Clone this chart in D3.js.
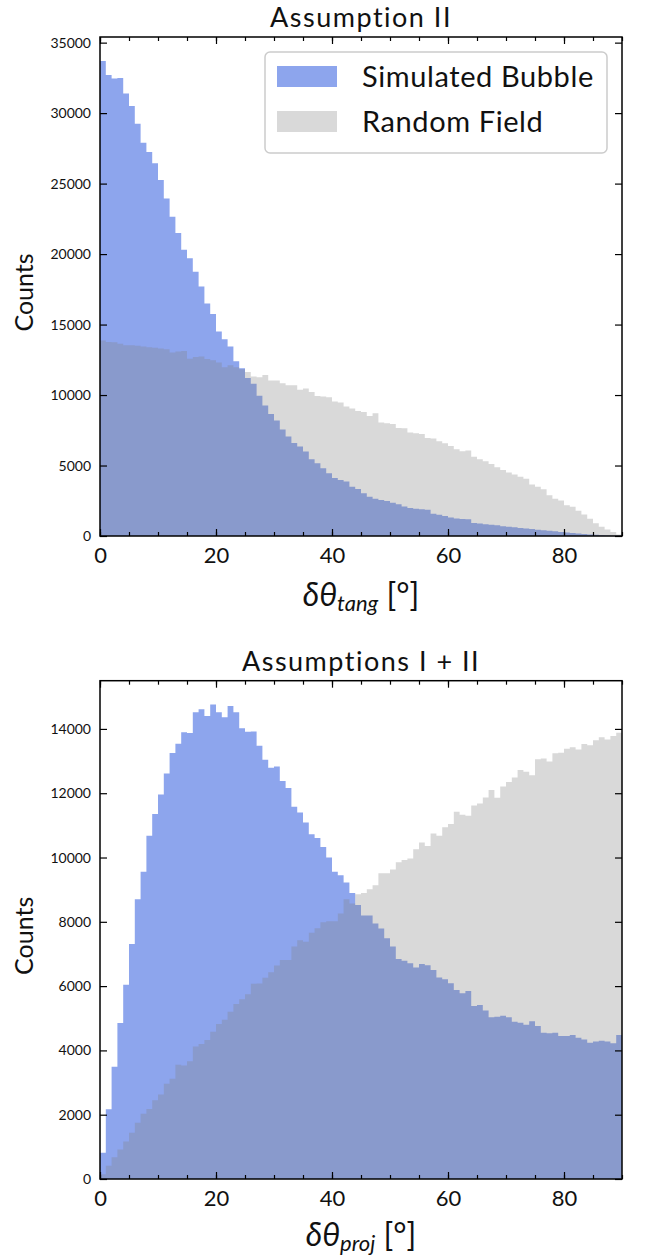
<!DOCTYPE html>
<html>
<head>
<meta charset="utf-8">
<script src="https://cdn.jsdelivr.net/npm/d3@7"></script>
<style>
  body { margin: 0; background: #fff; }
  text { font-family: Lato, "DejaVu Sans", sans-serif; fill: #111; }
</style>
</head>
<body>
<div class="container"></div>
<script>
// bin edges in degrees (1 degree bins from 0 to 90)
var binEdges = d3.range(0, 91, 1);

var xTicks = [0, 20, 40, 60, 80];
var xMinorTicks = [0, 5, 10, 15, 20, 25, 30, 35, 40, 45, 50, 55, 60, 65, 70, 75, 80, 85, 90];
var yTicksTang = [0, 5000, 10000, 15000, 20000, 25000, 30000, 35000];
var yTicksProj = [0, 2000, 4000, 6000, 8000, 10000, 12000, 14000];

var seriesNames = ['Simulated Bubble', 'Random Field'];

// Assumption II : delta theta tang
var tangBubble = [33700, 32700, 32450, 32500, 31400, 30500, 29250, 27900, 27250, 26450,
    25250, 23950, 22650, 21500, 20300, 19700, 18750, 17700, 16500, 15750,
    14500, 13950, 13450, 12400, 11900, 11200, 10800, 9950, 9250, 8650,
    8200, 7550, 7050, 6600, 6350, 5990, 5440, 5160, 4800, 4450,
    4120, 3980, 3860, 3500, 3340, 3030, 2790, 2650, 2560, 2480,
    2350, 2250, 2100, 1990, 1930, 1900, 1860, 1580, 1500, 1420,
    1320, 1250, 1200, 1190, 920, 880, 830, 790, 760, 700,
    660, 620, 570, 530, 490, 450, 410, 370, 330, 290,
    250, 210, 170, 140, 110, 80, 60, 40, 25, 10];

var tangRandom = [13870, 13770, 13750, 13630, 13540, 13540, 13490, 13440, 13390, 13350,
    13300, 13250, 13020, 13090, 13130, 12570, 12690, 12730, 12550, 12470,
    12310, 11980, 12120, 11980, 11830, 11640, 11310, 11260, 11430, 11030,
    11030, 10840, 10700, 10700, 10370, 10460, 10220, 9940, 9890, 9850,
    9550, 9470, 9180, 9040, 8870, 8800, 8520, 8710, 8050, 8000,
    7950, 7670, 7640, 7340, 7290, 7240, 6960, 6910, 6720, 6580,
    6390, 6150, 6010, 6060, 5630, 5440, 5300, 5110, 4880, 4690,
    4500, 4360, 4210, 4070, 3650, 3500, 3310, 2890, 2650, 2510,
    2180, 2080, 1800, 1520, 1230, 900, 660, 470, 280, 100];

// Assumptions I + II : delta theta proj
var projBubble = [820, 2170, 3490, 4850, 6040, 7310, 8700, 9560, 10680, 11350,
    11960, 12610, 13250, 13540, 13900, 13870, 14520, 14610, 14400, 14760,
    14520, 14360, 14710, 14520, 14020, 13910, 13920, 13480, 13040, 12790,
    12830, 12380, 12160, 11580, 11400, 11090, 10720, 10610, 10330, 10000,
    9560, 9450, 9220, 8900, 8520, 8200, 8200, 7950, 7790, 7490,
    7230, 6840, 6790, 6710, 6580, 6690, 6650, 6500, 6270, 6210,
    6090, 5880, 5780, 5850, 5380, 5410, 5240, 5030, 5050, 5080,
    5030, 4890, 4860, 4800, 4910, 4760, 4550, 4530, 4550, 4450,
    4450, 4480, 4390, 4340, 4240, 4280, 4300, 4280, 4220, 4480];

var projRandom = [150, 415, 680, 920, 1170, 1440, 1750, 2030, 2180, 2450,
    2630, 2960, 3120, 3550, 3530, 3660, 4120, 4200, 4320, 4580,
    4820, 4950, 5200, 5440, 5590, 5750, 6070, 6080, 6260, 6430,
    6640, 6810, 6810, 7230, 7430, 7380, 7660, 7800, 7990, 8020,
    8020, 8260, 8700, 8570, 8860, 8900, 9010, 9140, 9510, 9510,
    9630, 9850, 9920, 9970, 10260, 10470, 10360, 10750, 10680, 10940,
    11040, 11420, 11330, 11300, 11620, 11680, 11870, 12100, 11860, 12210,
    12350, 12490, 12720, 12670, 12560, 13060, 13080, 12990, 13240, 13260,
    13380, 13430, 13360, 13530, 13490, 13650, 13740, 13670, 13780, 13880];

var drawChart = function () {

    var WIDTH = 647;
    var HEIGHT = 1259;
    var LEFT = 100;
    var RIGHT = 622;

    var BLUE = 'royalblue', BLUE_ALPHA = 0.6;
    var GREY = 'grey', GREY_ALPHA = 0.3;

    var svg = d3.select('.container')
        .append('svg')
        .attr('width', WIDTH)
        .attr('height', HEIGHT);

    var drawPanel = function (opts) {
        var xScale = d3.scaleLinear().domain([0, 90]).range([LEFT, RIGHT]);
        var yScale = d3.scaleLinear().domain([0, opts.yMax]).range([opts.bottom, opts.top]);

        var g = svg.append('g');

        // step-filled histograms, one path per series so bins don't seam
        var area = d3.area()
            .x(function (d, i) { return xScale(binEdges[i]); })
            .y0(yScale(0))
            .y1(function (d) { return yScale(d); })
            .curve(d3.curveStepAfter);

        var stepData = function (vals) {
            return vals.concat([vals[vals.length - 1]]);
        };

        g.append('path')
            .attr('d', area(stepData(opts.bubble)))
            .attr('fill', BLUE)
            .attr('fill-opacity', BLUE_ALPHA);

        g.append('path')
            .attr('d', area(stepData(opts.random)))
            .attr('fill', GREY)
            .attr('fill-opacity', GREY_ALPHA);

        // ticks (all pointing inward)
        var bottomAxis = g.append('g')
            .attr('transform', 'translate(0,' + opts.bottom + ')')
            .call(d3.axisBottom(xScale).tickValues(xTicks).tickSize(-7).tickPadding(11));
        bottomAxis.selectAll('text').style('font-size', '22px');

        g.append('g')
            .attr('transform', 'translate(0,' + opts.bottom + ')')
            .call(d3.axisBottom(xScale).tickValues(xMinorTicks).tickSize(-4).tickFormat(''));

        g.append('g')
            .attr('transform', 'translate(0,' + opts.top + ')')
            .call(d3.axisTop(xScale).tickValues(xTicks).tickSize(-7).tickFormat(''));

        g.append('g')
            .attr('transform', 'translate(0,' + opts.top + ')')
            .call(d3.axisTop(xScale).tickValues(xMinorTicks).tickSize(-4).tickFormat(''));

        var leftAxis = g.append('g')
            .attr('transform', 'translate(' + LEFT + ',0)')
            .call(d3.axisLeft(yScale).tickValues(opts.yTicks).tickSize(-7).tickPadding(9)
                .tickFormat(d3.format('d')));
        leftAxis.selectAll('text').style('font-size', '14px');

        g.append('g')
            .attr('transform', 'translate(' + RIGHT + ',0)')
            .call(d3.axisRight(yScale).tickValues(opts.yTicks).tickSize(-7).tickFormat(''));

        g.selectAll('.domain').remove();
        g.selectAll('.tick line').attr('stroke', '#000').attr('stroke-width', 1.2);

        // frame
        g.append('rect')
            .attr('x', LEFT)
            .attr('y', opts.top)
            .attr('width', RIGHT - LEFT)
            .attr('height', opts.bottom - opts.top)
            .attr('fill', 'none')
            .attr('stroke', '#000')
            .attr('stroke-width', 1.5);

        // title
        g.append('text')
            .attr('x', (LEFT + RIGHT) / 2)
            .attr('y', opts.top - 10)
            .attr('text-anchor', 'middle')
            .style('font-size', '27px')
            .style('letter-spacing', '1.5px')
            .text(opts.title);

        // y label
        g.append('text')
            .attr('transform', 'translate(33,' + ((opts.top + opts.bottom) / 2 + 6) + ') rotate(-90)')
            .attr('text-anchor', 'middle')
            .style('font-size', '25px')
            .text('Counts');

        // x label with subscript
        var xl = g.append('text')
            .attr('x', (LEFT + RIGHT) / 2)
            .attr('y', opts.bottom + opts.xlabOffset)
            .attr('text-anchor', 'middle')
            .style('font-size', '32px');
        xl.append('tspan').style('font-style', 'italic').text('δθ');
        xl.append('tspan').style('font-style', 'italic').style('font-size', '22px')
            .attr('dy', 5).text(opts.sub);
        xl.append('tspan').attr('dy', -5).text(' [°]');

        return g;
    };

    drawPanel({
        top: 37, bottom: 536, yMax: 35400, yTicks: yTicksTang,
        bubble: tangBubble, random: tangRandom,
        title: 'Assumption II', sub: 'tang', xlabOffset: 70
    });

    drawPanel({
        top: 680.7, bottom: 1179, yMax: 15500, yTicks: yTicksProj,
        bubble: projBubble, random: projRandom,
        title: 'Assumptions I + II', sub: 'proj', xlabOffset: 67
    });

    // legend (top panel only)
    var legend = svg.append('g');
    legend.append('rect')
        .attr('x', 265).attr('y', 52)
        .attr('width', 342).attr('height', 101)
        .attr('rx', 5)
        .attr('fill', '#fff').attr('fill-opacity', 0.8)
        .attr('stroke', '#ccc').attr('stroke-width', 1.5);

    var legendItems = legend.selectAll('g.item')
        .data(seriesNames)
        .enter().append('g')
        .attr('class', 'item')
        .attr('transform', function (d, i) { return 'translate(277,' + (66 + i * 45) + ')'; });

    legendItems.append('rect')
        .attr('width', 60).attr('height', 21)
        .attr('fill', function (d, i) { return i === 0 ? BLUE : GREY; })
        .attr('fill-opacity', function (d, i) { return i === 0 ? BLUE_ALPHA : GREY_ALPHA; });

    legendItems.append('text')
        .attr('x', 85).attr('y', 21)
        .style('font-size', '29px')
        .style('letter-spacing', '0.6px')
        .text(function (d) { return d; });
};

window.onload = drawChart;
</script>
</body>
</html>
